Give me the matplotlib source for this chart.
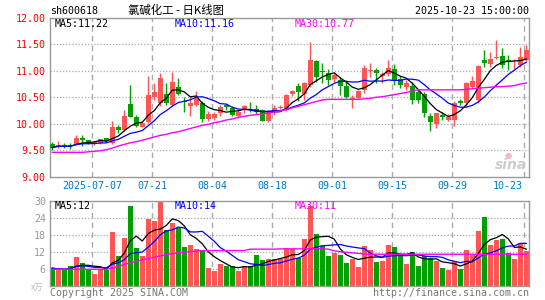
import matplotlib
matplotlib.use("Agg")
import matplotlib.pyplot as plt
import numpy as np
import pandas as pd

# ---------------- data ----------------
opens = [9.61, 9.57, 9.60, 9.60, 9.62, 9.74, 9.69, 9.64, 9.63, 9.73,
         9.64, 9.93, 9.88, 10.37, 10.12, 9.94, 10.04, 10.51, 10.40, 10.57,
         10.35, 10.69, 10.43, 10.34, 10.35, 10.40, 10.08, 10.10, 10.20, 10.35,
         10.30, 10.15, 10.25, 10.30, 10.27, 10.25, 10.06, 10.23, 10.30, 10.26,
         10.56, 10.71, 10.57, 10.73, 11.19, 10.99, 10.95, 10.84, 10.83, 10.71,
         10.47, 10.48, 10.64, 11.00, 11.01, 10.91, 10.93, 11.03, 10.84, 10.70,
         10.71, 10.59, 10.57, 10.15, 10.00, 10.17, 10.07, 10.07, 10.42, 10.39,
         10.70, 10.44, 11.20, 11.13, 11.24, 11.27, 11.20, 11.16, 11.11, 11.20]
highs = [9.65, 9.67, 9.64, 9.63, 9.78, 9.79, 9.70, 9.68, 9.72, 9.74,
         10.05, 9.97, 10.25, 10.73, 10.17, 10.03, 10.90, 10.76, 10.96, 10.76,
         10.98, 10.86, 10.51, 10.52, 10.62, 10.42, 10.24, 10.22, 10.35, 10.38,
         10.33, 10.26, 10.35, 10.41, 10.35, 10.28, 10.26, 10.35, 10.35, 10.56,
         10.64, 10.76, 10.79, 11.55, 11.21, 11.15, 11.03, 10.96, 10.89, 10.83,
         10.55, 10.64, 11.11, 11.14, 11.05, 10.97, 11.20, 11.13, 10.91, 10.82,
         10.79, 10.65, 10.60, 10.21, 10.21, 10.23, 10.18, 10.42, 10.46, 10.79,
         10.91, 11.11, 11.39, 11.36, 11.58, 11.43, 11.30, 11.23, 11.45, 11.48]
lows = [9.50, 9.55, 9.55, 9.52, 9.60, 9.58, 9.62, 9.60, 9.62, 9.66,
        9.62, 9.82, 9.86, 10.12, 9.94, 9.93, 10.02, 10.45, 10.34, 10.36,
        10.33, 10.54, 10.23, 10.14, 10.33, 10.04, 10.06, 10.07, 10.15, 10.26,
        10.14, 10.11, 10.21, 10.23, 10.19, 10.05, 10.04, 10.16, 10.27, 10.24,
        10.53, 10.42, 10.45, 10.70, 10.79, 10.76, 10.73, 10.79, 10.55, 10.48,
        10.29, 10.46, 10.58, 10.89, 10.76, 10.76, 10.91, 10.73, 10.67, 10.64,
        10.37, 10.40, 10.13, 9.87, 9.92, 10.07, 10.05, 9.96, 10.36, 10.34,
        10.67, 10.40, 11.08, 11.08, 11.23, 11.05, 11.02, 11.04, 11.07, 11.18]
closes = [9.55, 9.60, 9.57, 9.58, 9.74, 9.69, 9.63, 9.65, 9.71, 9.67,
          9.93, 9.88, 10.15, 10.13, 9.96, 10.02, 10.54, 10.59, 10.86, 10.40,
          10.78, 10.56, 10.41, 10.39, 10.48, 10.09, 10.18, 10.18, 10.32, 10.32,
          10.17, 10.23, 10.33, 10.29, 10.23, 10.06, 10.23, 10.30, 10.32, 10.54,
          10.61, 10.59, 10.76, 11.20, 10.89, 10.97, 10.83, 10.92, 10.71, 10.51,
          10.49, 10.62, 11.06, 11.02, 10.95, 10.93, 11.05, 10.83, 10.73, 10.76,
          10.45, 10.45, 10.20, 10.04, 10.20, 10.12, 10.12, 10.39, 10.39, 10.76,
          10.80, 11.09, 11.14, 11.22, 11.25, 11.11, 11.17, 11.17, 11.26, 11.40]
volumes = [6.2, 5.6, 5.6, 6.8, 10.0, 8.0, 5.6, 4.0, 6.0, 5.4,
           18.9, 10.4, 16.8, 28.1, 13.2, 10.4, 23.5, 22.8, 30.0, 19.6,
           22.1, 20.4, 13.6, 14.3, 13.0, 12.7, 6.1, 5.1, 7.5, 7.1,
           7.1, 5.1, 6.8, 6.8, 10.7, 9.0, 9.3, 9.6, 9.3, 13.4,
           12.9, 9.8, 16.6, 28.1, 18.2, 13.9, 10.4, 11.6, 10.7, 8.0,
           9.3, 6.6, 13.9, 12.5, 8.4, 8.7, 14.3, 13.7, 10.7, 7.7,
           11.8, 6.8, 10.4, 9.9, 8.7, 6.2, 5.4, 8.6, 5.8, 12.5,
           10.7, 19.4, 24.3, 14.3, 16.0, 16.4, 11.6, 9.3, 15.1, 12.1]
# 30-day averages (earlier history not shown)
ma30_price = [9.46, 9.46, 9.46, 9.46, 9.46, 9.46, 9.47, 9.48, 9.49, 9.51,
              9.54, 9.58, 9.61, 9.64, 9.66, 9.69, 9.72, 9.75, 9.78, 9.80,
              9.83, 9.85, 9.88, 9.91, 9.94, 9.97, 9.99, 10.02, 10.04, 10.07,
              10.09, 10.12, 10.14, 10.16, 10.17, 10.19, 10.20, 10.22, 10.24, 10.27,
              10.30, 10.33, 10.36, 10.39, 10.42, 10.45, 10.46, 10.46, 10.46, 10.46,
              10.46, 10.46, 10.47, 10.48, 10.50, 10.51, 10.53, 10.55, 10.57, 10.59,
              10.62, 10.64, 10.64, 10.64, 10.64, 10.64, 10.64, 10.64, 10.64, 10.65,
              10.66, 10.67, 10.68, 10.69, 10.70, 10.70, 10.71, 10.72, 10.75, 10.77]
ma30_vol = [5.8, 5.8, 5.8, 5.8, 5.8, 5.8, 5.8, 5.8, 5.8, 5.8,
            6.2, 6.8, 7.5, 8.0, 8.6, 9.1, 9.6, 10.0, 10.5, 11.0,
            11.3, 11.6, 11.8, 12.0, 12.2, 12.4, 12.4, 12.4, 12.4, 12.4,
            12.4, 12.4, 12.4, 12.9, 12.9, 12.9, 12.9, 12.9, 13.0, 13.0,
            13.0, 13.0, 13.0, 13.0, 13.0, 13.0, 12.9, 12.3, 12.0, 11.8,
            11.6, 11.4, 11.2, 11.1, 11.1, 11.1, 11.1, 11.1, 11.1, 11.1,
            11.1, 11.1, 11.1, 11.1, 11.1, 11.1, 11.1, 11.1, 11.1, 11.1,
            11.1, 11.1, 11.1, 11.1, 11.1, 11.1, 11.1, 11.1, 11.1, 11.1]
date_ticks = {7: "2025-07-07", 17: "07-21", 27: "08-04", 37: "08-18",
              47: "09-01", 57: "09-15", 67: "09-29", 79: "10-23"}
price_ticks = [9.00, 9.50, 10.00, 10.50, 11.00, 11.50, 12.00]
vol_ticks = [6, 12, 18, 24, 30]

# ---------------- style ----------------
RED = "#ff5555"
GREEN = "#00a000"
GRID = "#aaaaaa"
FRAME = "#999999"
MONO = "DejaVu Sans Mono"
FS = 7.2

W, H = 545, 300
fig = plt.figure(figsize=(W / 100, H / 100), dpi=100)
fig.patch.set_facecolor("white")

def px_axes(x0, y0, x1, y1):
    return fig.add_axes([x0 / W, 1 - y1 / H, (x1 - x0) / W, (y1 - y0) / H])

axp = px_axes(50, 17.8, 529, 176.7)
axv = px_axes(50, 200.7, 529, 285.7)

n = len(closes)
x = np.arange(n)
o = np.array(opens); c = np.array(closes); h = np.array(highs); l = np.array(lows)
up = c >= o
cols = np.where(up, RED, GREEN)

s_close = pd.Series(c)
ma5 = s_close.rolling(5, min_periods=1).mean()
ma10 = s_close.rolling(10, min_periods=1).mean()
s_vol = pd.Series(volumes)
vma5 = s_vol.rolling(5, min_periods=1).mean()
vma10 = s_vol.rolling(10, min_periods=1).mean()

xlim = (-0.38, 79.45)
grid_x = [k - 0.3 for k in date_ticks]

for ax in (axp, axv):
    ax.set_xlim(*xlim)
    for sp in ax.spines.values():
        sp.set_color(FRAME)
        sp.set_linewidth(1.0)
    ax.tick_params(length=0)
    ax.set_xticks([])
    for gx in grid_x:
        ax.axvline(gx, color=GRID, lw=1.0, ls=(0, (4, 3)), zorder=0)

# price panel
axp.set_ylim(9.0, 12.0)
for yv in price_ticks[1:-1]:
    axp.axhline(yv, color=GRID, lw=0.9, ls=(0, (1, 1.5)), zorder=0)
axp.set_yticks(price_ticks)
axp.set_yticklabels([f"{v:.2f}" for v in price_ticks], color="#ff0000",
                    fontfamily=MONO, fontsize=FS)
axp.tick_params(axis="y", pad=3)

axp.vlines(x, l, h, colors=cols, lw=1.0, zorder=2)
body_h = np.maximum(np.abs(c - o), 0.012)
axp.bar(x, body_h, bottom=np.minimum(o, c), width=0.8, color=cols,
        edgecolor=cols, linewidth=0.0, zorder=3)

axp.plot(x, ma5, color="black", lw=0.9, zorder=4)
axp.plot(x, ma10, color="#0000ff", lw=0.9, zorder=4)
axp.plot(x, ma30_price, color="#ff00ff", lw=1.0, zorder=4)

# volume panel
axv.set_ylim(0, 30)
for yv in vol_ticks[:-1]:
    axv.axhline(yv, color=GRID, lw=0.9, ls=(0, (1, 1.5)), zorder=0)
axv.set_yticks(vol_ticks)
axv.set_yticklabels([str(v) for v in vol_ticks], color="#999999",
                    fontfamily=MONO, fontsize=FS)
axv.tick_params(axis="y", pad=3)
axv.bar(x, volumes, width=0.84, color=cols, linewidth=0, zorder=2)
axv.plot(x, vma5, color="black", lw=0.9, zorder=4)
axv.plot(x, vma10, color="#0000ff", lw=0.9, zorder=4)
axv.plot(x, ma30_vol, color="#ff00ff", lw=1.0, zorder=4)

# date labels
for k, lab in date_ticks.items():
    xx = k - 0.3
    if k == max(date_ticks):
        axp.annotate(lab, xy=(xx, 0), xycoords=("data", "axes fraction"),
                     xytext=(-2, -9.5), textcoords="offset pixels",
                     ha="right", va="center", color="#0078c8",
                     fontfamily=MONO, fontsize=FS)
    else:
        axp.annotate(lab, xy=(xx, 0), xycoords=("data", "axes fraction"),
                     xytext=(0, -9.5), textcoords="offset pixels",
                     ha="center", va="center", color="#0078c8",
                     fontfamily=MONO, fontsize=FS)

def ftext(px, py, s, **kw):
    kw.setdefault("fontfamily", MONO)
    kw.setdefault("fontsize", FS)
    fig.text(px / W, 1 - py / H, s, **kw)

# header
ftext(50, 11.5, "sh600618", ha="left", va="center", color="black")
ftext(176, 10, "氯碱化工 - 日K线图", ha="center", va="center", color="black",
      fontfamily=["Noto Sans CJK SC", "DejaVu Sans"], fontsize=8.2)
ftext(529, 11.5, "2025-10-23 15:00:00", ha="right", va="center", color="black")

# MA legends
ftext(55, 24, f"MA5:{ma5.iloc[-1]:.2f}", ha="left", va="center", color="black")
ftext(175, 24, f"MA10:{ma10.iloc[-1]:.2f}", ha="left", va="center", color="#0000ff")
ftext(295, 24, f"MA30:{ma30_price[-1]:.2f}", ha="left", va="center", color="#ff00ff")
ftext(55, 206, f"MA5:{int(vma5.iloc[-1])}", ha="left", va="center", color="black")
ftext(175, 206, f"MA10:{int(vma10.iloc[-1])}", ha="left", va="center", color="#0000ff")
ftext(295, 206, f"MA30:{int(ma30_vol[-1])}", ha="left", va="center", color="#ff00ff")

# footer
ftext(43, 287.5, "x万", ha="right", va="center", color="#bbbbbb",
      fontfamily=["Noto Sans CJK SC", "DejaVu Sans"], fontsize=6)
ftext(50, 292.5, "Copyright 2025 SINA.COM", ha="left", va="center", color="#777777")
ftext(529, 292.5, "http://finance.sina.com.cn", ha="right", va="center", color="#777777")

# watermark
ftext(527, 165, "sina", ha="right", va="center", color="#cccccc",
      fontfamily="DejaVu Sans", fontsize=10, fontweight="bold", fontstyle="italic")
ftext(508, 155, "●", ha="center", va="center", color="#f6b8c0",
      fontfamily="DejaVu Sans", fontsize=6)

fig.savefig("out.png", dpi=100, facecolor="white")
